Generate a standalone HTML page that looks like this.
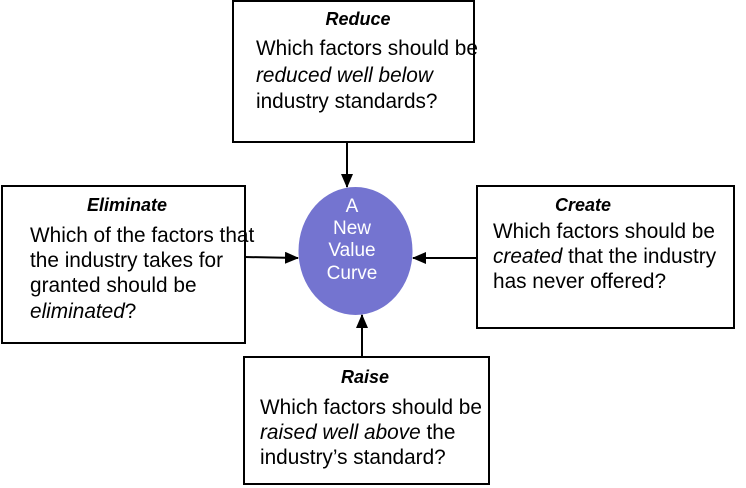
<!DOCTYPE html>
<html><head><meta charset="utf-8"><style>
html,body{margin:0;padding:0;background:#fff;}
svg{display:block;font-family:"Liberation Sans",Arial,sans-serif;}
.t{font-size:18px;font-weight:bold;font-style:italic;}
.b{font-size:20.8px;}
.c{font-size:19px;fill:#fff;}
</style></head><body>
<svg width="746" height="488" viewBox="0 0 746 488" xmlns="http://www.w3.org/2000/svg">
<defs><marker id="a" markerWidth="14" markerHeight="12" refX="13" refY="6" orient="auto" markerUnits="userSpaceOnUse"><path d="M0,0 L14,6 L0,12 z" fill="#000"/></marker></defs>
<g fill="#fff" stroke="#000" stroke-width="2">
<rect x="233" y="1" width="241" height="141"/>
<rect x="2" y="186" width="243" height="157"/>
<rect x="477" y="186" width="257" height="142"/>
<rect x="244" y="357" width="245" height="127"/>
</g>
<ellipse cx="355.5" cy="251" rx="57" ry="64" fill="#7474d0"/>
<g stroke="#000" stroke-width="2" marker-end="url(#a)">
<line x1="347" y1="142" x2="347" y2="187"/>
<line x1="245" y1="257" x2="298" y2="258"/>
<line x1="477" y1="258" x2="413" y2="258"/>
<line x1="362" y1="357" x2="362" y2="315"/>
</g>
<g text-anchor="middle">
<text class="c" x="352" y="212">A</text><text class="c" x="352" y="234">New</text><text class="c" x="352" y="256">Value</text><text class="c" x="352" y="279">Curve</text>
</g>
<text class="t" x="358" y="25" text-anchor="middle">Reduce</text>
<text class="b" x="256" y="55">Which factors should be</text>
<text class="b" x="256" y="82" font-style="italic" style="font-style:italic">reduced well below</text>
<text class="b" x="256" y="108">industry standards?</text>

<text class="t" x="127" y="211" text-anchor="middle">Eliminate</text>
<text class="b" x="30" y="242">Which of the factors that</text>
<text class="b" x="30" y="267">the industry takes for</text>
<text class="b" x="30" y="292">granted should be</text>
<text class="b" x="30" y="318"><tspan style="font-style:italic">eliminated</tspan>?</text>

<text class="t" x="583" y="211" text-anchor="middle">Create</text>
<text class="b" x="493" y="238">Which factors should be</text>
<text class="b" x="493" y="263"><tspan style="font-style:italic">created</tspan> that the industry</text>
<text class="b" x="493" y="288">has never offered?</text>

<text class="t" x="365" y="383" text-anchor="middle">Raise</text>
<text class="b" x="260" y="414">Which factors should be</text>
<text class="b" x="260" y="439"><tspan style="font-style:italic">raised well above</tspan> the</text>
<text class="b" x="260" y="464">industry’s standard?</text>
</svg>
</body></html>
